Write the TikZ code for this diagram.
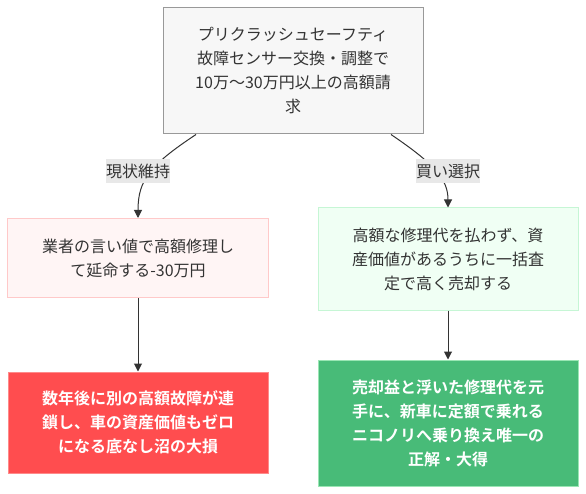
\documentclass[tikz,border=0pt]{standalone}
\usepackage{fontspec}
\newfontfamily\jp{Noto Sans CJK JP}
\newfontfamily\jpb{Noto Sans CJK JP Bold}
\usetikzlibrary{arrows.meta}
\definecolor{txt}{HTML}{333333}
\definecolor{edgec}{HTML}{333333}
\definecolor{topfill}{HTML}{F7F7F7}
\definecolor{topdraw}{HTML}{999999}
\definecolor{pinkfill}{HTML}{FFF5F5}
\definecolor{pinkdraw}{HTML}{FFC9C9}
\definecolor{mintfill}{HTML}{F0FFF4}
\definecolor{mintdraw}{HTML}{C6F6D5}
\definecolor{redfill}{HTML}{FF4D4F}
\definecolor{reddraw}{HTML}{FF8A8A}
\definecolor{greenfill}{HTML}{48BB78}
\definecolor{greendraw}{HTML}{9AE6B4}
\definecolor{lblfill}{HTML}{E8E8E8}
\tikzset{
  box/.style={draw, line width=1pt, align=center, inner sep=0pt, text=txt,
    font=\jp\fontsize{16}{24}\selectfont},
  boldbox/.style={box, text=white, font=\jpb\fontsize{16}{24}\selectfont},
  lbl/.style={fill=lblfill, inner xsep=0pt, inner ysep=0pt, minimum height=24pt, text=txt, font=\jp\fontsize{16}{24}\selectfont},
  conn/.style={draw=edgec, line width=1pt, -{Triangle[length=8pt,width=8pt]}}
}
\begin{document}
\begin{tikzpicture}[x=1pt,y=-1pt]
\useasboundingbox (0,0) rectangle (586,494);
\node[box, fill=topfill, draw=topdraw, minimum width=260pt, minimum height=126.5pt] (top) at (293,70.75)
  {プリクラッシュセーフティ\\故障センサー交換・調整で\\10万〜30万円以上の高額請\\求};
\node[box, fill=pinkfill, draw=pinkdraw, minimum width=261pt, minimum height=79pt] (left) at (138,258)
  {業者の言い値で高額修理し\\て延命する-30万円};
\node[box, fill=mintfill, draw=mintdraw, minimum width=260pt, minimum height=102pt] (right) at (448,259)
  {高額な修理代を払わず、資\\産価値があるうちに一括査\\定で高く売却する};
\node[boldbox, fill=redfill, draw=reddraw, minimum width=260pt, minimum height=101pt] (bad) at (138,422.5)
  {数年後に別の高額故障が連\\鎖し、車の資産価値もゼロ\\になる底なし沼の大損};
\node[boldbox, fill=greenfill, draw=greendraw, minimum width=260pt, minimum height=126pt] (good) at (448,423)
  {売却益と浮いた修理代を元\\手に、新車に定額で乗れる\\ニコノリへ乗り換え唯一の\\正解・大得};
\coordinate (s1) at ([xshift=-97pt]top.south);
\coordinate (s2) at ([xshift=98pt]top.south);
\draw[conn] (s1) .. controls (150,165) and (138,180) .. (left.north);
\draw[conn] (s2) .. controls (436,165) and (448,180) .. (right.north);
\draw[conn] (left.south) -- (bad.north);
\draw[conn] (right.south) -- (good.north);
\node[lbl] (l1) at (138,171) {現状維持};
\node[lbl] (l2) at (448,171) {買い選択};
\end{tikzpicture}
\end{document}
